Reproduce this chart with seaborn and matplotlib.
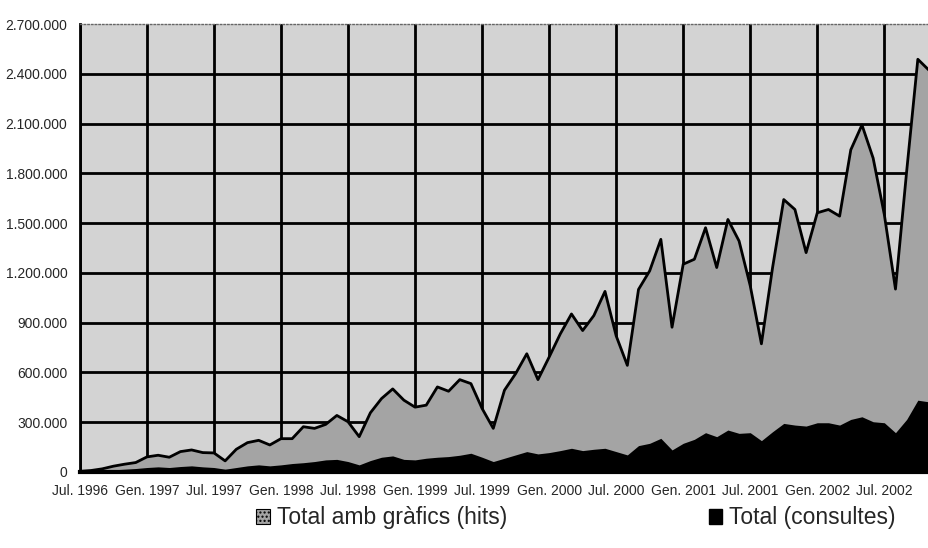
import matplotlib
matplotlib.use("Agg")
import matplotlib.pyplot as plt
from matplotlib.patches import Patch
import numpy as np
import pandas as pd
import seaborn as sns

# monthly values, Jul. 1996 - Nov. 2002 (thousands)
hits = [3, 8, 18, 34, 46, 56, 90, 100, 88, 122, 132, 116,
        114, 66, 136, 176, 190, 162, 200, 200, 272, 262, 286, 340,
        302, 212, 356, 442, 500, 432, 390, 402, 512, 486, 556, 532,
        382, 262, 492, 592, 712, 556, 692, 832, 952, 852, 942, 1088,
        820, 642, 1100, 1212, 1402, 872, 1252, 1282, 1472, 1232, 1522, 1392,
        1122, 772, 1232, 1642, 1582, 1322, 1562, 1582, 1542, 1942, 2092, 1892,
        1552, 1102, 1812, 2488, 2422]
consultes = [0, 2, 6, 12, 16, 20, 26, 30, 26, 32, 36, 30,
             26, 16, 26, 36, 42, 36, 42, 50, 55, 62, 72, 75,
             62, 42, 68, 88, 96, 75, 72, 82, 88, 92, 100, 112,
             88, 62, 82, 102, 122, 108, 116, 128, 142, 128, 136, 142,
             122, 102, 158, 172, 202, 132, 172, 196, 236, 212, 252, 232,
             236, 188, 242, 292, 282, 276, 296, 296, 282, 316, 332, 302,
             296, 236, 316, 432, 422]
tick_labels = ["Jul. 1996", "Gen. 1997", "Jul. 1997", "Gen. 1998", "Jul. 1998",
               "Gen. 1999", "Jul. 1999", "Gen. 2000", "Jul. 2000", "Gen. 2001",
               "Jul. 2001", "Gen. 2002", "Jul. 2002"]
series_names = ["Total amb gràfics (hits)", "Total (consultes)"]

df = pd.DataFrame({"mes": np.arange(len(hits)),
                   "hits": np.array(hits) * 1000,
                   "consultes": np.array(consultes) * 1000})

sns.set_style("white")
plt.rcParams["font.family"] = ["Liberation Sans", "DejaVu Sans"]

fig, ax = plt.subplots(figsize=(9.29, 5.48), dpi=100)
fig.subplots_adjust(left=0.086, right=1.0, bottom=0.139, top=0.956)

hits_col = "#a4a4a4"
ax.set_facecolor("#d3d3d3")
ax.fill_between(df["mes"], df["hits"], color=hits_col, lw=0, zorder=2)
sns.lineplot(data=df, x="mes", y="hits", color="black", lw=2, ax=ax, zorder=3)
ax.fill_between(df["mes"], df["consultes"], color="black", lw=0, zorder=4)

ax.set_xlim(0, len(hits) - 1)
ax.set_ylim(0, 2700000)
ax.set_xticks(np.arange(0, len(hits), 6))
ax.set_xticklabels(tick_labels, fontsize=10)
yt = np.arange(0, 2700001, 300000)
ax.set_yticks(yt)
ax.set_yticklabels([f"{v:,}".replace(",", ".") for v in yt], fontsize=10)
ax.set_xlabel("")
ax.set_ylabel("")

ax.grid(True, color="black", lw=2)
ax.set_axisbelow(True)
ax.yaxis.get_gridlines()[-1].set_visible(False)
ax.tick_params(axis="both", direction="out", length=5, width=1.5, color="black", pad=4)

for s in ["left", "bottom"]:
    ax.spines[s].set_color("black")
ax.spines["left"].set_linewidth(2)
ax.spines["bottom"].set_linewidth(3)
ax.spines["bottom"].set_zorder(5)
ax.spines["right"].set_visible(False)
ax.spines["top"].set_color("#666666")
ax.spines["top"].set_linestyle(":")
ax.spines["top"].set_linewidth(1)

handles = [Patch(facecolor=hits_col, edgecolor="black", hatch="....", lw=0.8),
           Patch(facecolor="black", edgecolor="black")]
fig.legend(handles, series_names, ncol=2, loc="center", bbox_to_anchor=(0.62, 0.055),
           frameon=False, fontsize=16.5, columnspacing=8.8, handlelength=0.6,
           handleheight=0.6, handletextpad=0.3)

plt.savefig("out.png", dpi=100)
plt.close()
